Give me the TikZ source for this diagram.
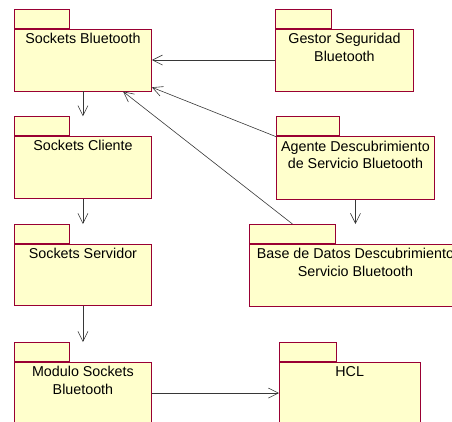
\documentclass[tikz,border=0pt]{standalone}
\usepackage{fontspec}
\setmainfont{Liberation Sans}
\usetikzlibrary{arrows.meta,calc}

\definecolor{pkgfill}{RGB}{255,255,204}
\definecolor{pkgline}{RGB}{153,0,51}
\definecolor{depline}{RGB}{55,55,55}

\tikzset{
  pkgbody/.style={draw=pkgline, fill=pkgfill, line width=0.9pt, rectangle,
                  inner sep=0pt, anchor=north west},
  pkgtab/.style={pkgbody},
  pkglabel/.style={anchor=north, inner sep=0pt, align=center, text=black,
                   font=\fontsize{14.3}{17.5}\selectfont},
  dep/.style={draw=depline, line width=0.6pt,
              -{Straight Barb[length=10pt,width=10pt,line width=0.6pt]}}
}

% UML package: name, x, tab top, tab width, body width, body height, label
\newcommand\umlpackage[7]{%
  \node[pkgtab, minimum width=#4pt, minimum height=18.7pt] (#1-tab) at (#2,#3) {};
  \node[pkgbody, minimum width=#5pt, minimum height=#6pt] (#1) at (#1-tab.south west) {};
  \node[pkglabel] (#1-text) at ($(#1.north)+(0,4.5)$) {#7};
}

\begin{document}
\begin{tikzpicture}[x=1pt,y=-1pt]
  \path[use as bounding box, clip] (0,0) rectangle (452,422);

  % left column
  \umlpackage{sb}{14}{9}{55}{137}{62}{Sockets Bluetooth}
  \umlpackage{sc}{14}{116.3}{55}{137}{62.5}{Sockets Cliente}
  \umlpackage{ss}{14}{224}{55}{137}{61.5}{Sockets Servidor}
  \umlpackage{mo}{14}{342}{55}{137}{62}{Modulo Sockets\\Bluetooth}

  % right column
  \umlpackage{gs}{275}{9}{56}{138}{62}{Gestor Seguridad\\Bluetooth}
  \umlpackage{ag}{276}{116.5}{63}{158}{63}{Agente Descubrimiento\\de Servicio Bluetooth}
  \umlpackage{bd}{249}{224}{86}{212}{62}{Base de Datos Descubrimiento\\Servicio Bluetooth}
  \umlpackage{hcl}{279}{342}{57}{140.5}{62}{HCL}

  % dependencies
  \draw[dep] (sb) -- (sc.north |- sc-tab.north);
  \draw[dep] (sc) -- (ss.north |- ss-tab.north);
  \draw[dep] (ss) -- (mo.north |- mo-tab.north);
  \draw[dep] (mo) -- (hcl);
  \draw[dep] (gs) -- (sb);
  \draw[dep] (ag) -- (sb);
  \draw[dep] (bd-tab.north) -- (sb);
  \draw[dep] (ag) -- (bd.north |- bd-tab.north);
\end{tikzpicture}
\end{document}
